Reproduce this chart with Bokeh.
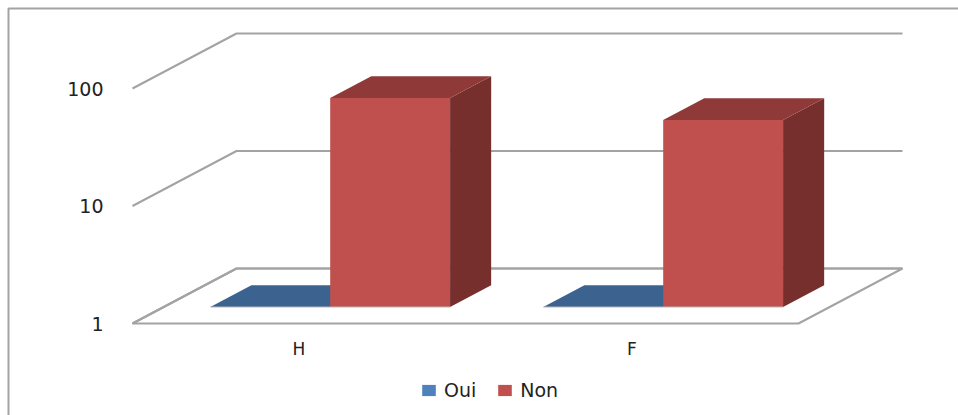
from bokeh.plotting import figure
from bokeh.models import Range1d, LinearAxis, LogAxis, FixedTicker, Legend, LegendItem
from bokeh.embed import file_html
from bokeh.resources import INLINE

categories = ["H", "F"]
oui = [1, 1]
non = [60, 39]
y_ticks = [1, 10, 100]
y_labels = ["1", "10", "100"]

PX_X = 333.0      # pixels per category
PX_DEC = 117.5    # pixels per decade
DEPTH_DX = 104.0  # floor depth, pixels
DEPTH_DY = 55.0
BAR_D0, BAR_D1 = 0.30, 0.695
BAR_W = 0.36

W, H = 958, 415
X0, Y0 = 132, 415 - 323  # pixels of origin from frame's left / bottom


def proj(x, y, d):
    return x + d * DEPTH_DX / PX_X, y * 10 ** (d * DEPTH_DY / PX_DEC)


def poly(points):
    pts = [proj(*q) for q in points]
    return [a for a, _ in pts], [b for _, b in pts]


p = figure(width=W, height=H, output_backend="svg", toolbar_location=None,
           x_range=Range1d(-X0 / PX_X, (W - X0) / PX_X),
           y_range=Range1d(10 ** (-Y0 / PX_DEC), 10 ** ((H - Y0) / PX_DEC)),
           y_axis_type="log", x_axis_location=None, y_axis_location=None,
           min_border=0, outline_line_color=None, background_fill_color="white")
p.grid.visible = False

GRID = "#A3A3A3"
n = len(categories)

# outer frame: top and left edges of the chart area
edge_l = (8 - X0) / PX_X
edge_r = (W - X0) / PX_X
edge_t = 10 ** ((H - 8 - Y0) / PX_DEC)
edge_b = 10 ** (-Y0 / PX_DEC)
p.line([edge_l, edge_l, edge_r], [edge_b, edge_t, edge_t], line_color=GRID, line_width=2)

# floor
fx, fy = poly([(0, 1, 0), (n, 1, 0), (n, 1, 1), (0, 1, 1)])
p.patch(fx, fy, fill_color="white", line_color=GRID, line_width=2)

# wall grid lines
gx, gy = [], []
for t in y_ticks:
    a, b = poly([(0, t, 0), (0, t, 1), (n, t, 1)])
    gx.append(a)
    gy.append(b)
p.multi_line(gx, gy, line_color=GRID, line_width=2)


def bars(values, offset, front, top, side):
    fr, tp, sd, base = ([], []), ([], []), ([], []), ([], [])
    for i, v in enumerate(values):
        x0 = i + 0.5 + offset
        x1 = x0 + BAR_W
        a = poly([(x0, 1, BAR_D0), (x1, 1, BAR_D0), (x1, v, BAR_D0), (x0, v, BAR_D0)])
        b = poly([(x0, v, BAR_D0), (x1, v, BAR_D0), (x1, v, BAR_D1), (x0, v, BAR_D1)])
        c = poly([(x1, 1, BAR_D0), (x1, 1, BAR_D1), (x1, v, BAR_D1), (x1, v, BAR_D0)])
        d = poly([(x0, 1, BAR_D0), (x1, 1, BAR_D0)])
        for store, (u, w) in ((fr, a), (tp, b), (sd, c), (base, d)):
            store[0].append(u)
            store[1].append(w)
    r = p.patches(fr[0], fr[1], fill_color=front, line_color=None)
    p.patches(sd[0], sd[1], fill_color=side, line_color=None)
    p.patches(tp[0], tp[1], fill_color=top, line_color=None)
    p.multi_line(base[0], base[1], line_color="#B8B8B8", line_width=1)
    return r


r_oui = bars(oui, -BAR_W, "#4F81BD", "#3C638F", "#2E4B6E")
r_non = bars(non, 0, "#C0504D", "#8F3A38", "#772F2D")

# axes fixed onto the chart's front plane
FONT = "DejaVu Sans"
xa = LinearAxis(ticker=FixedTicker(ticks=[i + 0.5 for i in range(n)]),
                major_label_overrides={i + 0.5: c for i, c in enumerate(categories)},
                fixed_location=1, axis_line_color=None, major_tick_line_color=None,
                minor_tick_line_color=None, major_label_standoff=9,
                major_label_text_font=FONT, major_label_text_font_size="17px",
                major_label_text_color="#222222")
p.add_layout(xa, "below")
ya = LogAxis(ticker=FixedTicker(ticks=y_ticks),
             major_label_overrides=dict(zip(y_ticks, y_labels)),
             fixed_location=0, axis_line_color=None, major_tick_line_color=None,
             minor_tick_line_color=None, major_label_standoff=23,
             major_label_text_font=FONT, major_label_text_font_size="19px",
             major_label_text_color="#222222")
p.add_layout(ya, "left")

legend = Legend(items=[LegendItem(label="Oui", renderers=[r_oui]),
                       LegendItem(label="Non", renderers=[r_non])],
                orientation="horizontal", location=(420, 14),
                border_line_color=None, background_fill_alpha=0,
                padding=0, margin=0, spacing=20, glyph_width=17, glyph_height=14,
                label_standoff=7, label_text_font=FONT, label_text_font_size="19px",
                label_text_color="#222222")
p.add_layout(legend)

open("out.html", "w").write(file_html(p, INLINE))
